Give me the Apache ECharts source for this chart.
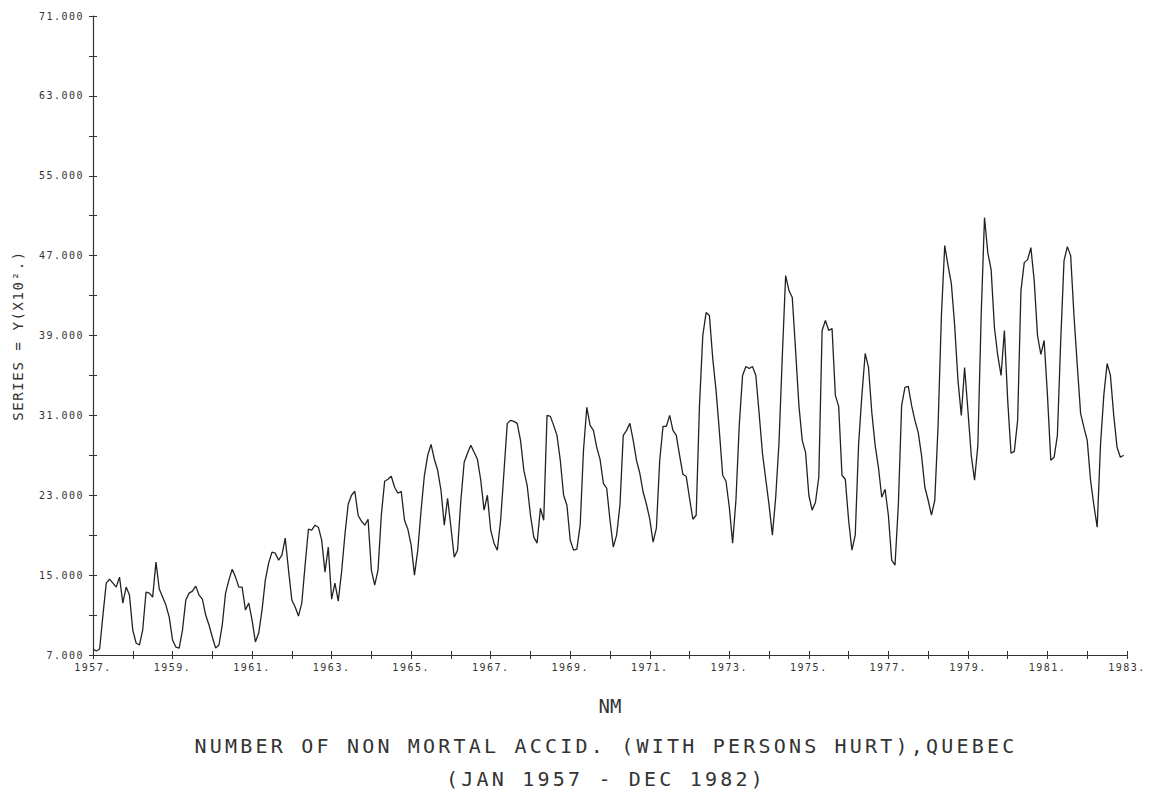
<!DOCTYPE html>
<html>
<head>
<meta charset="utf-8">
<title>Non mortal accidents, Quebec</title>
<script src="https://cdn.jsdelivr.net/npm/echarts@6/dist/echarts.min.js"></script>
<style>
    html, body { margin: 0; padding: 0; background: #fff; }
    #chart { width: 1149px; height: 799px; }
    /* plotter look: wide letter spacing */
    #chart text[style*="20px"] { letter-spacing: 3.2px; }
    #chart text[style*="10px"] { letter-spacing: 1.5px; }
    #chart text[style*="14px"] { letter-spacing: 1.6px; }
</style>
</head>
<body>
<div id="chart"></div>
<script>
// 月度数据 (单位: 百起), 1957年1月起
const startYear = 1957;
const accidents = [
    7.6, 7.4, 7.6, 11.0, 14.2, 14.6, 14.2, 13.8, 14.8, 12.2, 13.8, 13.0,      // 1957
    9.5, 8.2, 8.0, 9.5, 13.3, 13.2, 12.8, 16.3, 13.6, 12.8, 12.0, 10.8,       // 1958
    8.5, 7.8, 7.7, 9.5, 12.5, 13.2, 13.4, 13.9, 13.0, 12.6, 11.0, 10.0,       // 1959
    8.8, 7.7, 8.0, 10.0, 13.2, 14.5, 15.6, 14.8, 13.8, 13.8, 11.5, 12.2,      // 1960
    10.5, 8.3, 9.2, 11.5, 14.5, 16.2, 17.3, 17.2, 16.5, 17.0, 18.7, 15.5,     // 1961
    12.5, 11.8, 10.9, 12.2, 16.0, 19.6, 19.5, 20.0, 19.8, 18.5, 15.3, 17.8,   // 1962
    12.6, 14.2, 12.4, 15.3, 19.0, 22.1, 23.0, 23.4, 21.0, 20.4, 20.0, 20.6,   // 1963
    15.5, 14.0, 15.5, 21.0, 24.4, 24.6, 24.9, 23.8, 23.2, 23.4, 20.5, 19.6,   // 1964
    18.0, 15.0, 17.5, 21.5, 25.0, 27.0, 28.1, 26.6, 25.5, 23.5, 20.0, 22.7,   // 1965
    19.8, 16.8, 17.5, 22.5, 26.3, 27.2, 28.0, 27.3, 26.6, 24.5, 21.5, 23.0,   // 1966
    19.5, 18.2, 17.5, 20.5, 25.3, 30.2, 30.5, 30.4, 30.2, 28.5, 25.5, 24.0,   // 1967
    21.0, 18.8, 18.2, 21.7, 20.5, 31.0, 30.9, 30.0, 29.0, 26.5, 23.0, 22.0,   // 1968
    18.5, 17.5, 17.6, 20.0, 27.5, 31.8, 30.0, 29.5, 27.8, 26.6, 24.2, 23.7,   // 1969
    20.5, 17.8, 19.0, 22.0, 29.0, 29.5, 30.2, 28.5, 26.5, 25.2, 23.3, 22.1,   // 1970
    20.6, 18.3, 19.7, 26.5, 29.9, 29.9, 31.0, 29.5, 29.0, 27.0, 25.1, 24.9,   // 1971
    22.7, 20.6, 21.0, 32.0, 39.0, 41.3, 41.0, 36.7, 33.5, 29.4, 25.0, 24.4,   // 1972
    21.8, 18.2, 22.5, 30.0, 35.0, 35.9, 35.7, 35.9, 35.0, 31.2, 27.2, 24.6,   // 1973
    22.0, 19.0, 22.8, 28.3, 37.0, 45.0, 43.5, 42.8, 37.5, 32.0, 28.5, 27.3,   // 1974
    23.0, 21.5, 22.3, 24.8, 39.5, 40.5, 39.5, 39.7, 33.0, 31.9, 25.0, 24.6,   // 1975
    20.5, 17.5, 19.0, 28.0, 33.0, 37.2, 35.8, 31.3, 28.0, 25.8, 22.8, 23.6,   // 1976
    21.0, 16.5, 16.0, 22.0, 32.0, 33.8, 33.9, 32.0, 30.5, 29.3, 27.0, 23.8,   // 1977
    22.5, 21.0, 22.5, 30.0, 41.0, 48.0, 46.0, 44.2, 40.0, 34.5, 31.0, 35.8,   // 1978
    31.5, 27.0, 24.5, 28.0, 41.0, 50.8, 47.3, 45.6, 39.8, 37.0, 35.0, 39.5,   // 1979
    32.5, 27.2, 27.4, 30.5, 43.5, 46.3, 46.6, 47.8, 44.5, 39.0, 37.1, 38.5,   // 1980
    33.0, 26.5, 26.8, 29.0, 38.5, 46.5, 47.9, 47.0, 41.0, 36.0, 31.2, 29.8,   // 1981
    28.5, 24.5, 22.0, 19.8, 28.0, 33.0, 36.2, 35.0, 31.0, 27.8, 26.8, 27.0    // 1982
];
// 刻度
const yLabels = [7, 15, 23, 31, 39, 47, 55, 63, 71];
const yTicks = [7, 11, 15, 19, 23, 27, 31, 35, 39, 43, 47, 51, 55, 59, 63, 67, 71];
const xLabels = [1957, 1959, 1961, 1963, 1965, 1967, 1969, 1971, 1973, 1975, 1977, 1979, 1981, 1983];
const xTicks = [1957, 1958, 1959, 1960, 1961, 1962, 1963, 1964, 1965, 1966, 1967, 1968, 1969,
    1970, 1971, 1972, 1973, 1974, 1975, 1976, 1977, 1978, 1979, 1980, 1981, 1982, 1983];

const mono = 'DejaVu Sans Mono';
const ink = '#333';
const points = accidents.map((v, i) => [startYear + i / 12, v]);

const myChart = echarts.init(document.getElementById('chart'), null, {renderer: 'svg'});
myChart.setOption({
    animation: false,
    backgroundColor: '#fff',
    title: [
        {
            text: 'NUMBER OF NON MORTAL ACCID. (WITH PERSONS HURT),QUEBEC',
            left: 601, top: 731, textAlign: 'center',
            textStyle: {fontFamily: mono, fontSize: 20, fontWeight: 'normal', color: ink}
        },
        {
            text: '(JAN 1957 - DEC 1982)',
            left: 601, top: 764, textAlign: 'center',
            textStyle: {fontFamily: mono, fontSize: 20, fontWeight: 'normal', color: ink}
        }
    ],
    grid: {left: 93, right: 22, top: 16, bottom: 144},
    xAxis: [
        {
            type: 'value', min: 1957, max: 1983,
            name: 'NM', nameLocation: 'middle', nameGap: 41,
            nameTextStyle: {fontFamily: mono, fontSize: 19, color: ink},
            axisLine: {lineStyle: {color: ink, width: 1.2}},
            axisTick: {customValues: xTicks, length: 4, lineStyle: {color: ink}},
            axisLabel: {
                customValues: xLabels, margin: 7,
                formatter: v => v + '.',
                fontFamily: mono, fontSize: 10, color: ink
            },
            splitLine: {show: false}
        },
        {
            type: 'value', min: 1957, max: 1983, position: 'bottom',
            axisLine: {show: false},
            axisTick: {customValues: xTicks, inside: true, length: 4, lineStyle: {color: ink}},
            axisLabel: {show: false},
            splitLine: {show: false}
        }
    ],
    yAxis: [
        {
            type: 'value', min: 7, max: 71,
            name: 'SERIES = Y(X10\u00b2.)',
            nameLocation: 'middle', nameRotate: 90, nameGap: 68,
            nameTextStyle: {fontFamily: mono, fontSize: 14, color: ink},
            axisLine: {show: true, lineStyle: {color: ink, width: 1.2}},
            axisTick: {show: true, customValues: yTicks, length: 4, lineStyle: {color: ink}},
            axisLabel: {
                customValues: yLabels, margin: 9,
                formatter: v => v.toFixed(3),
                fontFamily: mono, fontSize: 10, color: ink
            },
            splitLine: {show: false}
        },
        {
            type: 'value', min: 7, max: 71, position: 'left',
            axisLine: {show: false},
            axisTick: {show: true, customValues: yTicks, inside: true, length: 4, lineStyle: {color: ink}},
            axisLabel: {show: false},
            splitLine: {show: false}
        }
    ],
    series: [{
        name: 'SERIES',
        type: 'line',
        data: points,
        showSymbol: false,
        lineStyle: {color: '#222', width: 1.3}
    }]
});
</script>
</body>
</html>
